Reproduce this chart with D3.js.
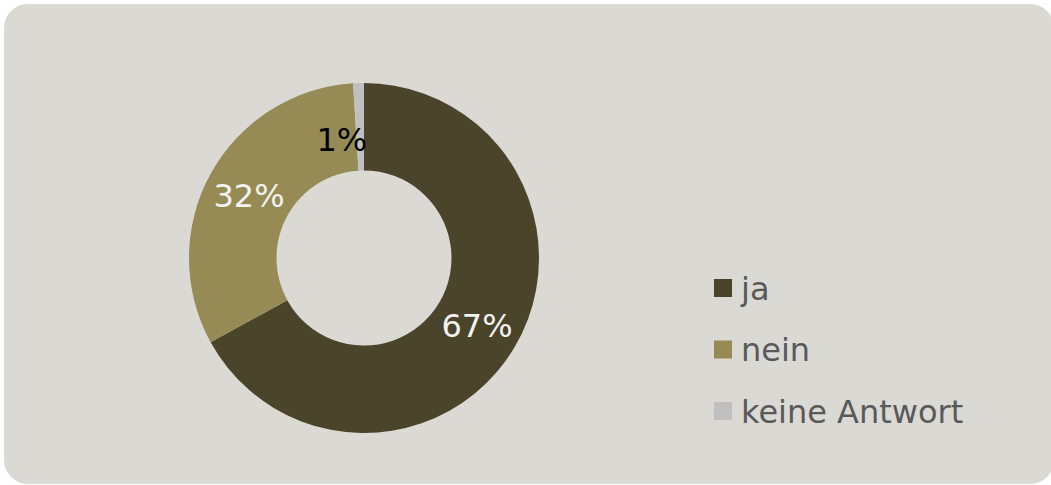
<!DOCTYPE html>
<html><head><meta charset="utf-8">
<script src="https://cdn.jsdelivr.net/npm/d3@7"></script>
<style>html,body{margin:0;padding:0;background:#fff;overflow:hidden}</style>
</head><body>
<svg id="c" width="1051" height="485"></svg>
<script>
const categories = ["ja", "nein", "keine Antwort"];
const values = [67, 32, 1];
const labels = ["67%", "32%", "1%"];
const colors = ["#4a442b", "#968b54", "#c0c0c0"];
const labelColors = ["#f2f2f2", "#f2f2f2", "#000000"];

const svg = d3.select("#c");
svg.append("rect").attr("x", 4).attr("y", 4).attr("width", 1050).attr("height", 480)
  .attr("rx", 24).attr("fill", "#dad9d4");

const cx = 364, cy = 258, rOuter = 175, rInner = 87.5;
const pie = d3.pie().sort(null).value(d => d)(values);
const arc = d3.arc().innerRadius(rInner).outerRadius(rOuter);
const g = svg.append("g").attr("transform", `translate(${cx},${cy})`);
g.selectAll("path").data(pie).join("path").attr("d", arc).attr("fill", (d, i) => colors[i]);

const labelOffsets = [[0, 1], [0, 1], [-18, 13]];
g.selectAll("text").data(pie).join("text")
  .attr("x", (d, i) => arc.centroid(d)[0] + labelOffsets[i][0])
  .attr("y", (d, i) => arc.centroid(d)[1] + labelOffsets[i][1])
  .attr("dy", "0.36em")
  .attr("text-anchor", "middle")
  .attr("font-family", "DejaVu Sans, Verdana, sans-serif")
  .attr("font-size", 32)
  .attr("fill", (d, i) => labelColors[i])
  .text((d, i) => labels[i]);

const lg = svg.append("g").attr("transform", "translate(714,279)");
const item = lg.selectAll("g").data(categories).join("g")
  .attr("transform", (d, i) => `translate(0,${i * 61.5})`);
item.append("rect").attr("width", 18).attr("height", 18).attr("fill", (d, i) => colors[i]);
item.append("text").attr("x", 27).attr("y", 9).attr("dy", "0.36em")
  .attr("font-family", "DejaVu Sans, Verdana, sans-serif")
  .attr("font-size", 32).attr("fill", "#595959").text(d => d);
</script>
</body></html>
